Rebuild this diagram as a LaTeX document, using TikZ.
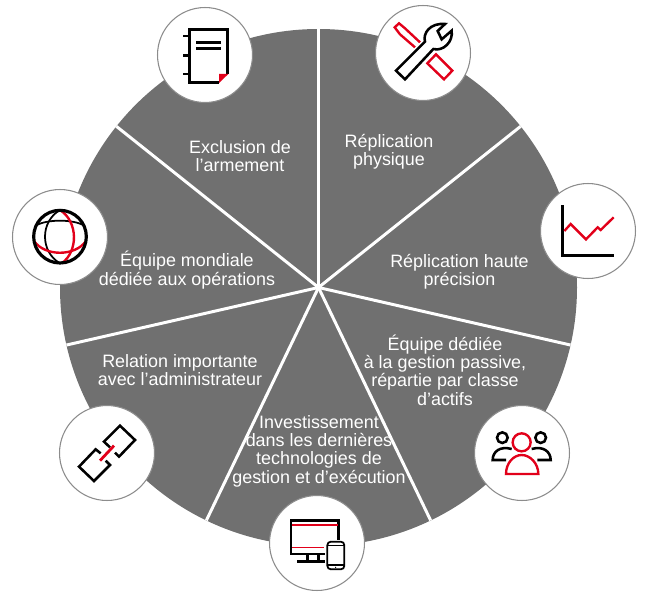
\documentclass[tikz,border=0pt]{standalone}
\usepackage{fontspec}
\setmainfont{Liberation Sans}
\usepackage{xcolor}
\definecolor{discgrey}{RGB}{112,112,112}
\definecolor{iconred}{RGB}{226,0,26}
\tikzset{
  sectorlabel/.style={text=white, align=center, inner sep=0pt, font=\fontsize{10.2}{10.4}\selectfont},
  iconring/.style={circle, draw=black!45, line width=0.6pt, fill=white, minimum size=\ringsize, inner sep=0pt},
  blackline/.style={draw=black, line width=1.45pt, line join=miter},
  redline/.style={draw=iconred, line width=1.35pt, line join=miter},
}
\begin{document}
\begin{tikzpicture}[x=0.02cm, y=-0.02cm]
  \def\cx{318.5}
  \def\cy{287.5}
  \def\discr{258.5}
  \def\ringsize{1.9cm}

  % Fixed bounding box
  \path[use as bounding box] (0,0) rectangle (646,595);

  % Disc and its seven white spokes
  \fill[discgrey] (\cx,\cy) circle[radius=\discr];
  \foreach \a in {90,38.57,-12.86,-64.29,-115.71,-167.14,141.43} {
    \draw[white, line width=1.7pt] (\cx,\cy) -- ({\cx+\discr*cos(\a)},{\cy-\discr*sin(\a)});
  }

  % Labels
  \node[sectorlabel] (armement) at (240,156) {Exclusion de\\l’armement};
  \node[sectorlabel] (physique) at (389,152) {Réplication\\physique};
  \node[sectorlabel] (precision) at (459.5,272) {Réplication haute\\précision};
  \node[sectorlabel] (passive) at (445,370) {Équipe dédiée\\à la gestion passive,\\répartie par classe\\d’actifs};
  \node[sectorlabel] (techno) at (319,451) {Investissement\\dans les dernières\\technologies de\\gestion et d’exécution};
  \node[sectorlabel] (admin) at (180,370) {Relation importante\\avec l’administrateur};
  \node[sectorlabel] (mondiale) at (187,270) {Équipe mondiale\\dédiée aux opérations};

  % White rings for the icons
  \node[iconring] (ringnote) at (205,55) {};
  \node[iconring] (ringtool) at (423,53) {};
  \node[iconring] (ringchart) at (588,231) {};
  \node[iconring] (ringteam) at (522,453) {};
  \node[iconring] (ringscreen) at (317,543) {};
  \node[iconring] (ringlink) at (107,453) {};
  \node[iconring] (ringglobe) at (60,237) {};

  % Notebook
  \begin{scope}[shift={(150,0)}, scale=1/3]
    \draw[blackline] (207,247) -- (118,247) -- (118,88) -- (233,88) -- (233,222);
    \foreach \y in {108,167,222} {
      \draw[blackline] (100,\y) -- (118,\y);
    }
    \draw[blackline] (138,128) -- (212,128);
    \draw[blackline] (138,146) -- (212,146);
    \fill[iconred] (207,222) -- (235,222) -- (207,249) -- cycle;
  \end{scope}

  % Wrench over screwdriver
  \begin{scope}[shift={(370,0)}, scale=1/3]
    \draw[redline] (150,127) -- (105,85) -- (87,70) -- (74,82) -- (90,103) -- (135,142);
    \draw[redline] (172,190) -- (198,163) -- (247,212) -- (222,238) -- cycle;
    \draw[blackline, fill=white] (78,212) -- (165,125)
      .. controls (158,100) and (180,68) .. (225,72)
      -- (203,93) -- (215,118) -- (245,92)
      .. controls (250,125) and (220,155) .. (190,147)
      -- (105,238) -- cycle;
  \end{scope}

  % Chart
  \begin{scope}[shift={(535,175)}, scale=1/3]
    \draw[blackline] (83,90) -- (83,241) -- (236,241);
    \draw[redline] (88,168) -- (107,147) -- (153,193) -- (188,157) -- (197,165) -- (236,127);
  \end{scope}

  % Team
  \begin{scope}[shift={(470,405)}, scale=1/3]
    \draw[blackline] (97,98) circle[radius=16];
    \draw[blackline] (212,98) circle[radius=16];
    \draw[blackline] (108,165) -- (68,165) .. controls (68,140) and (90,122) .. (125,132);
    \draw[blackline] (202,165) -- (242,165) .. controls (242,140) and (220,122) .. (185,132);
    \draw[redline] (155,112) circle[radius=27];
    \draw[redline] (108,207) .. controls (108,175) and (130,150) .. (155,150)
      .. controls (180,150) and (205,175) .. (205,207) -- cycle;
  \end{scope}

  % Screen and phone
  \begin{scope}[shift={(265,500)}, scale=1/3]
    \draw[blackline] (180,162) -- (78,162) -- (78,62) -- (220,62) -- (220,120);
    \draw[redline, line width=0.9pt] (82,75) -- (218,75);
    \draw[redline, line width=0.9pt] (82,143) -- (178,143);
    \draw[blackline] (127,162) -- (127,184);
    \draw[blackline] (160,162) -- (160,184);
    \draw[blackline] (97,184) -- (180,184);
    \draw[black, line width=1pt, rounded corners=2pt] (187,125) rectangle (238,208);
    \draw[black, line width=0.6pt] (187,136) -- (238,136);
    \draw[black, line width=0.6pt] (187,195) -- (238,195);
    \fill[black] (212,202) circle[radius=2];
  \end{scope}

  % Chain
  \begin{scope}[shift={(55,405)}, scale=1/3]
    \draw[blackline] (165,127) -- (147,110) -- (195,62) -- (240,105) -- (192,155) -- (180,143);
    \draw[blackline] (137,145) -- (122,133) -- (72,185) -- (117,228) -- (165,180) -- (152,167);
    \draw[redline, line width=1.6pt] (135,167) -- (177,122);
  \end{scope}

  % Globe
  \begin{scope}[shift={(5,185)}, scale=1/3]
    \draw[black, line width=1pt] (165,75) .. controls (105,110) and (105,200) .. (165,235);
    \draw[black, line width=1pt] (92,122) .. controls (125,102) and (205,102) .. (238,122);
    \draw[redline] (87,168) .. controls (120,215) and (210,215) .. (243,168);
    \draw[redline] (165,75) .. controls (220,110) and (220,200) .. (170,235);
    \draw[black, line width=1.8pt] (165,155) circle[radius=79];
  \end{scope}

\end{tikzpicture}
\end{document}
